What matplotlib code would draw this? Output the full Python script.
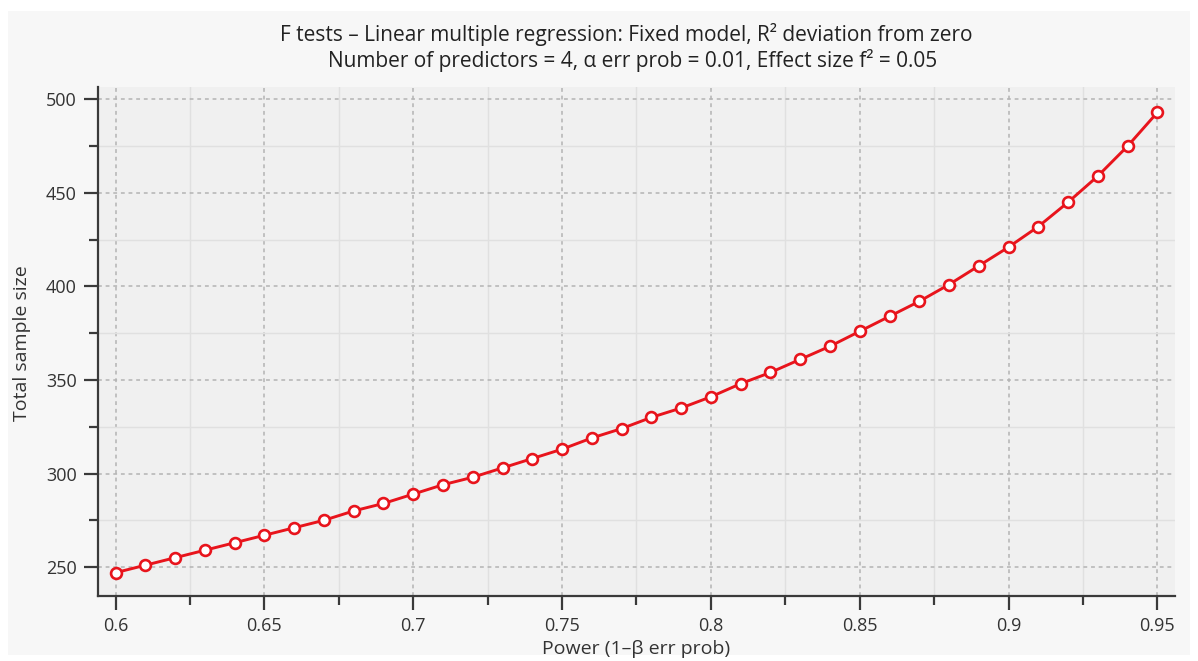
import matplotlib
matplotlib.use("Agg")
import matplotlib.pyplot as plt
from matplotlib.patches import Rectangle
from matplotlib.ticker import MultipleLocator

power = [0.60, 0.61, 0.62, 0.63, 0.64, 0.65, 0.66, 0.67, 0.68, 0.69,
         0.70, 0.71, 0.72, 0.73, 0.74, 0.75, 0.76, 0.77, 0.78, 0.79,
         0.80, 0.81, 0.82, 0.83, 0.84, 0.85, 0.86, 0.87, 0.88, 0.89,
         0.90, 0.91, 0.92, 0.93, 0.94, 0.95]
sample_size = [247, 251, 255, 259, 263, 267, 271, 275, 280, 284,
               289, 294, 298, 303, 308, 313, 319, 324, 330, 335,
               341, 348, 354, 361, 368, 376, 384, 392, 401, 411,
               421, 432, 445, 459, 475, 493]

x_ticks = [0.6, 0.65, 0.7, 0.75, 0.8, 0.85, 0.9, 0.95]
x_tick_labels = ["0.6", "0.65", "0.7", "0.75", "0.8", "0.85", "0.9", "0.95"]
y_ticks = [250, 300, 350, 400, 450, 500]

title = "F tests \u2013 Linear multiple regression: Fixed model, R\u00b2 deviation from zero"
subtitle = "Number of predictors = 4, \u03b1 err prob = 0.01, Effect size f\u00b2 = 0.05"
xlabel = "Power (1\u2013\u03b2 err prob)"
ylabel = "Total sample size"

plt.rcParams['font.family'] = ['Open Sans', 'DejaVu Sans']

W, H = 1198, 661
fig = plt.figure(figsize=(W / 100, H / 100), dpi=100)
fig.patch.set_facecolor("white")
fig.add_artist(Rectangle((8 / W, 1 - 655 / H), (1190 - 8) / W, (655 - 11) / H,
                         transform=fig.transFigure, facecolor="#f7f7f7",
                         edgecolor="none", zorder=-10))

left, right, top, bottom = 97.7, 1175, 87.3, 595.7
ax = fig.add_axes([left / W, 1 - bottom / H, (right - left) / W, (bottom - top) / H])
ax.set_facecolor("#f0f0f0")

ax.plot(power, sample_size, color="#e8141c", lw=2.1, marker="o", ms=7.8,
        mfc="white", mec="#e8141c", mew=1.9, zorder=5, clip_on=False)

ax.set_xlim(0.594, 0.9559)
ax.set_ylim(234.7, 506.4)
ax.set_xticks(x_ticks)
ax.set_xticklabels(x_tick_labels)
ax.set_yticks(y_ticks)
ax.xaxis.set_minor_locator(MultipleLocator(0.025))
ax.yaxis.set_minor_locator(MultipleLocator(25))

ax.grid(which="major", color="#b3b3b3", linestyle=(0, (2.5, 2.5)), lw=1.1)
ax.grid(which="minor", color="#e0e0e0", linestyle="-", lw=1.0)
ax.set_axisbelow(True)

for s in ["top", "right"]:
    ax.spines[s].set_visible(False)
for s in ["left", "bottom"]:
    ax.spines[s].set_color("#3a3a3a")
    ax.spines[s].set_linewidth(1.6)

ax.tick_params(which="major", direction="out", length=10, width=1.6,
               color="#3a3a3a", labelsize=13, labelcolor="#333333", pad=5)
ax.tick_params(which="minor", direction="out", length=6.5, width=1.6,
               color="#3a3a3a")

ax.set_xlabel(xlabel, fontsize=14, color="#333333", va="center")
ax.set_ylabel(ylabel, fontsize=14, color="#333333", va="center")
ax.xaxis.set_label_coords(0.5, (595.7 - 649) / (595.7 - 87.3))
ax.yaxis.set_label_coords((22 - 97.7) / (1175 - 97.7), 0.496)

cx = (left + right) / 2 / W
fig.text(cx - 10 / W, 1 - 34 / H, title, ha="center", va="center", fontsize=15, color="#222222")
fig.text(cx - 4 / W, 1 - 61 / H, subtitle, ha="center", va="center", fontsize=15, color="#222222")

fig.savefig("out.png", dpi=100, facecolor="white")
